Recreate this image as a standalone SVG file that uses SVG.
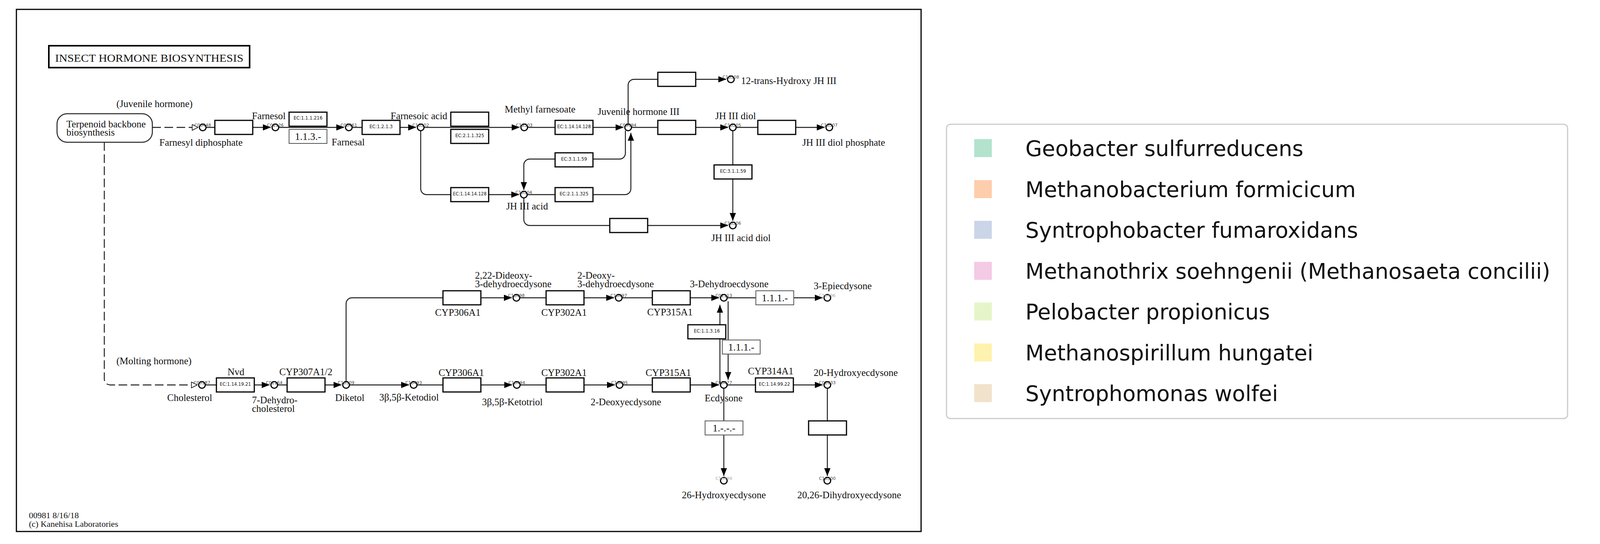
<svg xmlns="http://www.w3.org/2000/svg" width="4375" height="1392" viewBox="0 0 4375 1392">
<style>
.ln{fill:none;stroke:#1a1a1a;stroke-width:2.4}
.dash{stroke-dasharray:22 9}
.ec{fill:#fff;stroke:#000;stroke-width:3}
.ecg{fill:#fff;stroke:#555;stroke-width:2}
.cpd{fill:#fff;stroke:#000;stroke-width:3}
.lbl{font-family:"Liberation Serif",serif;font-size:25px;fill:#111}
.mid{text-anchor:middle}
.ect{font-family:"DejaVu Sans",sans-serif;font-size:11.5px;fill:#111;text-anchor:middle}
.num{font-family:"Liberation Serif",serif;font-size:26px;fill:#111;text-anchor:middle}
.cid{font-family:"DejaVu Sans",sans-serif;font-size:11px;fill:#444;text-anchor:middle}
.cidl{fill:#aaa}
.leg{font-family:"DejaVu Sans",sans-serif;font-size:55px;fill:#111}
</style>
<defs>
<marker id="arr" viewBox="0 0 20 16" refX="20" refY="8" markerWidth="20" markerHeight="16" markerUnits="userSpaceOnUse" orient="auto"><path d="M0,0 L20,8 L0,16 z" fill="#000"/></marker>
<marker id="harr" viewBox="0 0 17 17" refX="16" refY="8.5" markerWidth="17" markerHeight="17" markerUnits="userSpaceOnUse" orient="auto"><path d="M1,1 L16,8.5 L1,16 z" fill="#fff" stroke="#000" stroke-width="1.5"/></marker>
</defs>
<rect width="4375" height="1392" fill="#fff"/>
<rect x="42" y="24" width="2316" height="1336" fill="#fff" stroke="#000" stroke-width="3"/>
<g id="title"><rect x="125" y="117" width="514" height="56" fill="#fff" stroke="#000" stroke-width="4"/><text x="382" y="158" class="lbl mid" style="font-size:27px" textLength="482" lengthAdjust="spacingAndGlyphs">INSECT HORMONE BIOSYNTHESIS</text></g>
<g id="connectors">
<path class="ln dash" d="M390,326 H507" marker-end="url(#harr)"/>
<path class="ln" d="M527,326 H693" marker-end="url(#arr)"/>
<path class="ln" d="M713,326 H881" marker-end="url(#arr)"/>
<path class="ln" d="M901,326 H1065" marker-end="url(#arr)"/>
<path class="ln" d="M1085,326 H1330" marker-end="url(#arr)"/>
<path class="ln" d="M1350,326 H1596" marker-end="url(#arr)"/>
<path class="ln" d="M1616,326 H1864" marker-end="url(#arr)"/>
<path class="ln" d="M1884,326 H2111" marker-end="url(#arr)"/>
<path class="ln" d="M1608,318 V218 A15,15 0 0 1 1623,203 H1859" marker-end="url(#arr)"/>
<path class="ln" d="M1601,334 V392 A15,15 0 0 1 1586,407 H1356 A15,15 0 0 0 1341,422 V486" marker-end="url(#arr)"/>
<path class="ln" d="M1349,498 H1600 A15,15 0 0 0 1615,483 V340" marker-end="url(#arr)"/>
<path class="ln" d="M1077,334 V483 A15,15 0 0 0 1092,498 H1329" marker-end="url(#arr)"/>
<path class="ln" d="M1341,506 V562 A15,15 0 0 0 1356,577 H1864" marker-end="url(#arr)"/>
<path class="ln" d="M1876,334 V565" marker-end="url(#arr)"/>
<path class="ln dash" d="M267,364 V970 A15,15 0 0 0 282,985 H505" marker-end="url(#harr)"/>
<path class="ln" d="M525,985 H690" marker-end="url(#arr)"/>
<path class="ln" d="M710,985 H874" marker-end="url(#arr)"/>
<path class="ln" d="M894,985 H1047" marker-end="url(#arr)"/>
<path class="ln" d="M1067,985 H1311" marker-end="url(#arr)"/>
<path class="ln" d="M1331,985 H1574" marker-end="url(#arr)"/>
<path class="ln" d="M1594,985 H1841" marker-end="url(#arr)"/>
<path class="ln" d="M1861,985 H2106" marker-end="url(#arr)"/>
<path class="ln" d="M886,977 V777 A15,15 0 0 1 901,762 H1310" marker-end="url(#arr)"/>
<path class="ln" d="M1330,762 H1572" marker-end="url(#arr)"/>
<path class="ln" d="M1592,762 H1841" marker-end="url(#arr)"/>
<path class="ln" d="M1861,762 H2106" marker-end="url(#arr)"/>
<path class="ln" d="M1843,983 V780" marker-end="url(#arr)"/>
<path class="ln" d="M1864,771 V972" marker-end="url(#arr)"/>
<path class="ln" d="M1853,993 V1218" marker-end="url(#arr)"/>
<path class="ln" d="M2118,993 V1218" marker-end="url(#arr)"/>
</g>
<g id="map-terpenoid"><rect x="146" y="291" width="244" height="73" rx="26" fill="#fff" stroke="#222" stroke-width="2.5"/><text x="170" y="326" class="lbl">Terpenoid backbone</text><text x="170" y="347" class="lbl">biosynthesis</text></g>
<text id="lbl-juvenile" x="298" y="274" class="lbl">(Juvenile hormone)</text>
<text id="lbl-molting" x="298" y="932" class="lbl">(Molting hormone)</text>
<g id="enz-E1"><rect x="550" y="308" width="97" height="36" class="ec"/></g>
<g id="enz-1-1-1-216"><rect x="740" y="287" width="97" height="36" class="ec"/><text x="788.5" y="306" class="ect">EC:1.1.1.216</text></g>
<g id="enz-1-1-3-x"><rect x="740" y="331" width="97" height="36" class="ecg"/><text x="788.5" y="358" class="num">1.1.3.-</text></g>
<g id="enz-1-2-1-3"><rect x="927" y="308" width="97" height="36" class="ec"/><text x="975.5" y="328" class="ect">EC:1.2.1.3</text></g>
<g id="enz-E5"><rect x="1154" y="287" width="97" height="36" class="ec"/></g>
<g id="enz-2-1-1-325-a"><rect x="1154" y="331" width="97" height="36" class="ec"/><text x="1202.5" y="351" class="ect">EC:2.1.1.325</text></g>
<g id="enz-1-14-14-128-a"><rect x="1421" y="308" width="97" height="36" class="ec"/><text x="1469.5" y="328" class="ect" textLength="86" lengthAdjust="spacingAndGlyphs">EC:1.14.14.128</text></g>
<g id="enz-E8"><rect x="1684" y="308" width="97" height="36" class="ec"/></g>
<g id="enz-E9"><rect x="1940" y="308" width="97" height="36" class="ec"/></g>
<g id="enz-E10"><rect x="1684" y="185" width="97" height="36" class="ec"/></g>
<g id="enz-3-1-1-59-a"><rect x="1421" y="391" width="97" height="36" class="ec"/><text x="1469.5" y="411" class="ect">EC:3.1.1.59</text></g>
<g id="enz-2-1-1-325-b"><rect x="1421" y="480" width="97" height="36" class="ec"/><text x="1469.5" y="500" class="ect">EC:2.1.1.325</text></g>
<g id="enz-1-14-14-128-b"><rect x="1154" y="480" width="97" height="36" class="ec"/><text x="1202.5" y="500" class="ect" textLength="86" lengthAdjust="spacingAndGlyphs">EC:1.14.14.128</text></g>
<g id="enz-E14"><rect x="1561" y="559" width="97" height="36" class="ec"/></g>
<g id="enz-3-1-1-59-b"><rect x="1828" y="422" width="97" height="36" class="ec"/><text x="1876.5" y="442" class="ect">EC:3.1.1.59</text></g>
<g id="enz-nvd"><rect x="554" y="967" width="97" height="36" class="ec"/><text x="602.5" y="987" class="ect" textLength="80" lengthAdjust="spacingAndGlyphs">EC:1.14.19.21</text><text x="604" y="960" class="lbl mid">Nvd</text></g>
<g id="enz-cyp307"><rect x="735" y="967" width="97" height="36" class="ec"/><text x="783" y="960" class="lbl mid">CYP307A1/2</text></g>
<g id="enz-cyp306-a"><rect x="1134" y="744" width="97" height="36" class="ec"/><text x="1172" y="808" class="lbl mid">CYP306A1</text></g>
<g id="enz-cyp302-a"><rect x="1398" y="744" width="97" height="36" class="ec"/><text x="1444" y="808" class="lbl mid">CYP302A1</text></g>
<g id="enz-cyp315-a"><rect x="1670" y="744" width="97" height="36" class="ec"/><text x="1715" y="807" class="lbl mid">CYP315A1</text></g>
<g id="enz-1-1-1-x-a"><rect x="1935" y="744" width="97" height="36" class="ecg"/><text x="1983.5" y="771" class="num">1.1.1.-</text></g>
<g id="enz-cyp306-b"><rect x="1134" y="967" width="97" height="36" class="ec"/><text x="1181" y="962" class="lbl mid">CYP306A1</text></g>
<g id="enz-cyp302-b"><rect x="1398" y="967" width="97" height="36" class="ec"/><text x="1444" y="962" class="lbl mid">CYP302A1</text></g>
<g id="enz-cyp315-b"><rect x="1670" y="967" width="97" height="36" class="ec"/><text x="1711" y="962" class="lbl mid">CYP315A1</text></g>
<g id="enz-cyp314"><rect x="1934" y="967" width="97" height="36" class="ec"/><text x="1982.5" y="987" class="ect" textLength="80" lengthAdjust="spacingAndGlyphs">EC:1.14.99.22</text><text x="1973" y="958" class="lbl mid">CYP314A1</text></g>
<g id="enz-1-1-3-16"><rect x="1761" y="831" width="97" height="36" class="ec"/><text x="1809.5" y="851" class="ect">EC:1.1.3.16</text></g>
<g id="enz-1-1-1-x-b"><rect x="1849" y="870" width="97" height="36" class="ecg"/><text x="1897.5" y="897" class="num">1.1.1.-</text></g>
<g id="enz-1-x-x-x"><rect x="1805" y="1077" width="97" height="36" class="ecg"/><text x="1853.5" y="1104" class="num">1.-.-.-</text></g>
<g id="enz-B14"><rect x="2070" y="1077" width="97" height="36" class="ec"/></g>
<g id="cpd-C00448"><circle cx="519" cy="326" r="8.5" class="cpd"/><text x="519" y="324" class="cid">C00448</text><text x="408" y="373" class="lbl">Farnesyl diphosphate</text></g>
<g id="cpd-C01126"><circle cx="705" cy="326" r="8.5" class="cpd"/><text x="705" y="324" class="cid">C01126</text><text x="645" y="305" class="lbl">Farnesol</text></g>
<g id="cpd-C03461"><circle cx="893" cy="326" r="8.5" class="cpd"/><text x="893" y="324" class="cid">C03461</text><text x="849" y="372" class="lbl">Farnesal</text></g>
<g id="cpd-C16502"><circle cx="1077" cy="326" r="8.5" class="cpd"/><text x="1077" y="324" class="cid">C16502</text><text x="1000" y="305" class="lbl">Farnesoic acid</text></g>
<g id="cpd-C16503"><circle cx="1342" cy="326" r="8.5" class="cpd"/><text x="1342" y="324" class="cid">C16503</text><text x="1292" y="288" class="lbl">Methyl farnesoate</text></g>
<g id="cpd-C09694"><circle cx="1608" cy="326" r="8.5" class="cpd"/><text x="1608" y="324" class="cid">C09694</text><text x="1530" y="294" class="lbl">Juvenile hormone III</text></g>
<g id="cpd-C16505"><circle cx="1876" cy="326" r="8.5" class="cpd"/><text x="1876" y="324" class="cid">C16505</text><text x="1831" y="305" class="lbl">JH III diol</text></g>
<g id="cpd-C16507"><circle cx="2123" cy="326" r="8.5" class="cpd"/><text x="2123" y="324" class="cid">C16507</text><text x="2054" y="373" class="lbl">JH III diol phosphate</text></g>
<g id="cpd-C16508"><circle cx="1871" cy="203" r="8.5" class="cpd"/><text x="1871" y="201" class="cid">C16508</text><text x="1897" y="215" class="lbl">12-trans-Hydroxy JH III</text></g>
<g id="cpd-C16504"><circle cx="1341" cy="498" r="8.5" class="cpd"/><text x="1341" y="496" class="cid">C16504</text><text x="1296" y="536" class="lbl">JH III acid</text></g>
<g id="cpd-C16506"><circle cx="1876" cy="577" r="8.5" class="cpd"/><text x="1876" y="575" class="cid">C16506</text><text x="1821" y="617" class="lbl">JH III acid diol</text></g>
<g id="cpd-C00187"><circle cx="517" cy="985" r="8.5" class="cpd"/><text x="517" y="983" class="cid">C00187</text><text x="428" y="1026" class="lbl">Cholesterol</text></g>
<g id="cpd-C01164"><circle cx="702" cy="985" r="8.5" class="cpd"/><text x="702" y="983" class="cid">C01164</text><text x="645" y="1032" class="lbl">7-Dehydro-</text><text x="645" y="1054" class="lbl">cholesterol</text></g>
<g id="cpd-C16509"><circle cx="886" cy="985" r="8.5" class="cpd"/><text x="886" y="983" class="cid">C16509</text><text x="858" y="1026" class="lbl">Diketol</text></g>
<g id="cpd-C16493"><circle cx="1059" cy="985" r="8.5" class="cpd"/><text x="1059" y="983" class="cid">C16493</text><text x="971" y="1025" class="lbl">3β,5β-Ketodiol</text></g>
<g id="cpd-C16494"><circle cx="1323" cy="985" r="8.5" class="cpd"/><text x="1323" y="983" class="cid">C16494</text><text x="1234" y="1037" class="lbl">3β,5β-Ketotriol</text></g>
<g id="cpd-C16495"><circle cx="1586" cy="985" r="8.5" class="cpd"/><text x="1586" y="983" class="cid">C16495</text><text x="1512" y="1037" class="lbl">2-Deoxyecdysone</text></g>
<g id="cpd-C00477"><circle cx="1853" cy="985" r="8.5" class="cpd"/><text x="1853" y="983" class="cid">C00477</text><text x="1804" y="1027" class="lbl">Ecdysone</text></g>
<g id="cpd-C02633"><circle cx="2118" cy="985" r="8.5" class="cpd"/><text x="2118" y="983" class="cid">C02633</text><text x="2083" y="962" class="lbl">20-Hydroxyecdysone</text></g>
<g id="cpd-C16498"><circle cx="1322" cy="762" r="8.5" class="cpd"/><text x="1322" y="760" class="cid">C16498</text><text x="1216" y="713" class="lbl">2,22-Dideoxy-</text><text x="1216" y="735" class="lbl">3-dehydroecdysone</text></g>
<g id="cpd-C16497"><circle cx="1584" cy="762" r="8.5" class="cpd"/><text x="1584" y="760" class="cid">C16497</text><text x="1478" y="713" class="lbl">2-Deoxy-</text><text x="1478" y="735" class="lbl">3-dehydroecdysone</text></g>
<g id="cpd-C02113"><circle cx="1853" cy="762" r="8.5" class="cpd"/><text x="1853" y="760" class="cid">C02113</text><text x="1766" y="735" class="lbl">3-Dehydroecdysone</text></g>
<g id="cpd-C16496"><circle cx="2118" cy="762" r="8.5" class="cpd"/><text x="2118" y="760" class="cid cidl">C16496</text><text x="2083" y="740" class="lbl">3-Epiecdysone</text></g>
<g id="cpd-C16499"><circle cx="1853" cy="1230" r="8.5" class="cpd"/><text x="1853" y="1228" class="cid cidl">C16499</text><text x="1853" y="1275" class="lbl mid">26-Hydroxyecdysone</text></g>
<g id="cpd-C16500"><circle cx="2118" cy="1230" r="8.5" class="cpd"/><text x="2118" y="1228" class="cid">C16500</text><text x="2174" y="1275" class="lbl mid">20,26-Dihydroxyecdysone</text></g>
<g id="footer"><text x="74" y="1326" class="lbl" style="font-size:22px">00981 8/16/18</text><text x="74" y="1348" class="lbl" style="font-size:22px">(c) Kanehisa Laboratories</text></g>
<g id="legend">
<rect x="2423" y="318" width="1590" height="753" rx="10" fill="#fff" stroke="#ccc" stroke-width="3"/>
<rect x="2494" y="356" width="45" height="46" fill="#b3e2cd"/><text x="2625" y="399" class="leg">Geobacter sulfurreducens</text>
<rect x="2494" y="461" width="45" height="46" fill="#fdcdac"/><text x="2625" y="504" class="leg">Methanobacterium formicicum</text>
<rect x="2494" y="565" width="45" height="46" fill="#cbd5e8"/><text x="2625" y="608" class="leg">Syntrophobacter fumaroxidans</text>
<rect x="2494" y="670" width="45" height="46" fill="#f4cae4"/><text x="2625" y="713" class="leg">Methanothrix soehngenii (Methanosaeta concilii)</text>
<rect x="2494" y="774" width="45" height="46" fill="#e6f5c9"/><text x="2625" y="817" class="leg">Pelobacter propionicus</text>
<rect x="2494" y="879" width="45" height="46" fill="#fff2ae"/><text x="2625" y="922" class="leg">Methanospirillum hungatei</text>
<rect x="2494" y="983" width="45" height="46" fill="#f1e2cc"/><text x="2625" y="1026" class="leg">Syntrophomonas wolfei</text>
</g>
</svg>
